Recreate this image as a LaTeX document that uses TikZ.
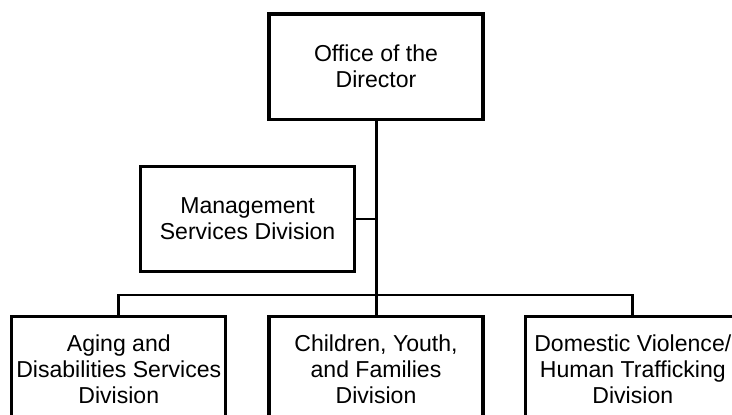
\documentclass[tikz,border=0pt]{standalone}
\usepackage{fontspec}
\setmainfont{Liberation Sans}

\begin{document}
\begin{tikzpicture}[
    unit/.style={
        rectangle,
        minimum width=5.35cm,
        minimum height=2.63cm,
        draw=black,
        line width=2.3pt,
        fill=white,
        inner sep=1pt,
        font=\fontsize{16.4}{18.6}\selectfont,
        align=center
    },
    link/.style={
        line width=2pt
    }
]

\useasboundingbox (0,0) rectangle (18.3,10.375);
\clip (0,0) rectangle (18.3,10.375);

\coordinate (bus) at (9.42,3.0);

\node[unit] (director) at (9.40,8.71) {Office of the\\Director};
\node[unit] (mgmt) at (6.19,4.90) {Management\\Services Division};
\node[unit] (aging) at (2.97,1.15) {Aging and\\Disabilities Services\\Division};
\node[unit] (cyf) at (9.40,1.15) {Children, Youth,\\and Families\\Division};
\node[unit] (dvht) at (15.82,1.15) {Domestic Violence/\\Human Trafficking\\Division};

\draw[link] (director.south -| bus) -- (bus);
\draw[link] (mgmt.east) -- (mgmt.east -| bus);
\draw[link] (aging.north) |- (bus) -| (dvht.north);
\draw[link] (bus) -- (cyf.north -| bus);

\end{tikzpicture}
\end{document}
